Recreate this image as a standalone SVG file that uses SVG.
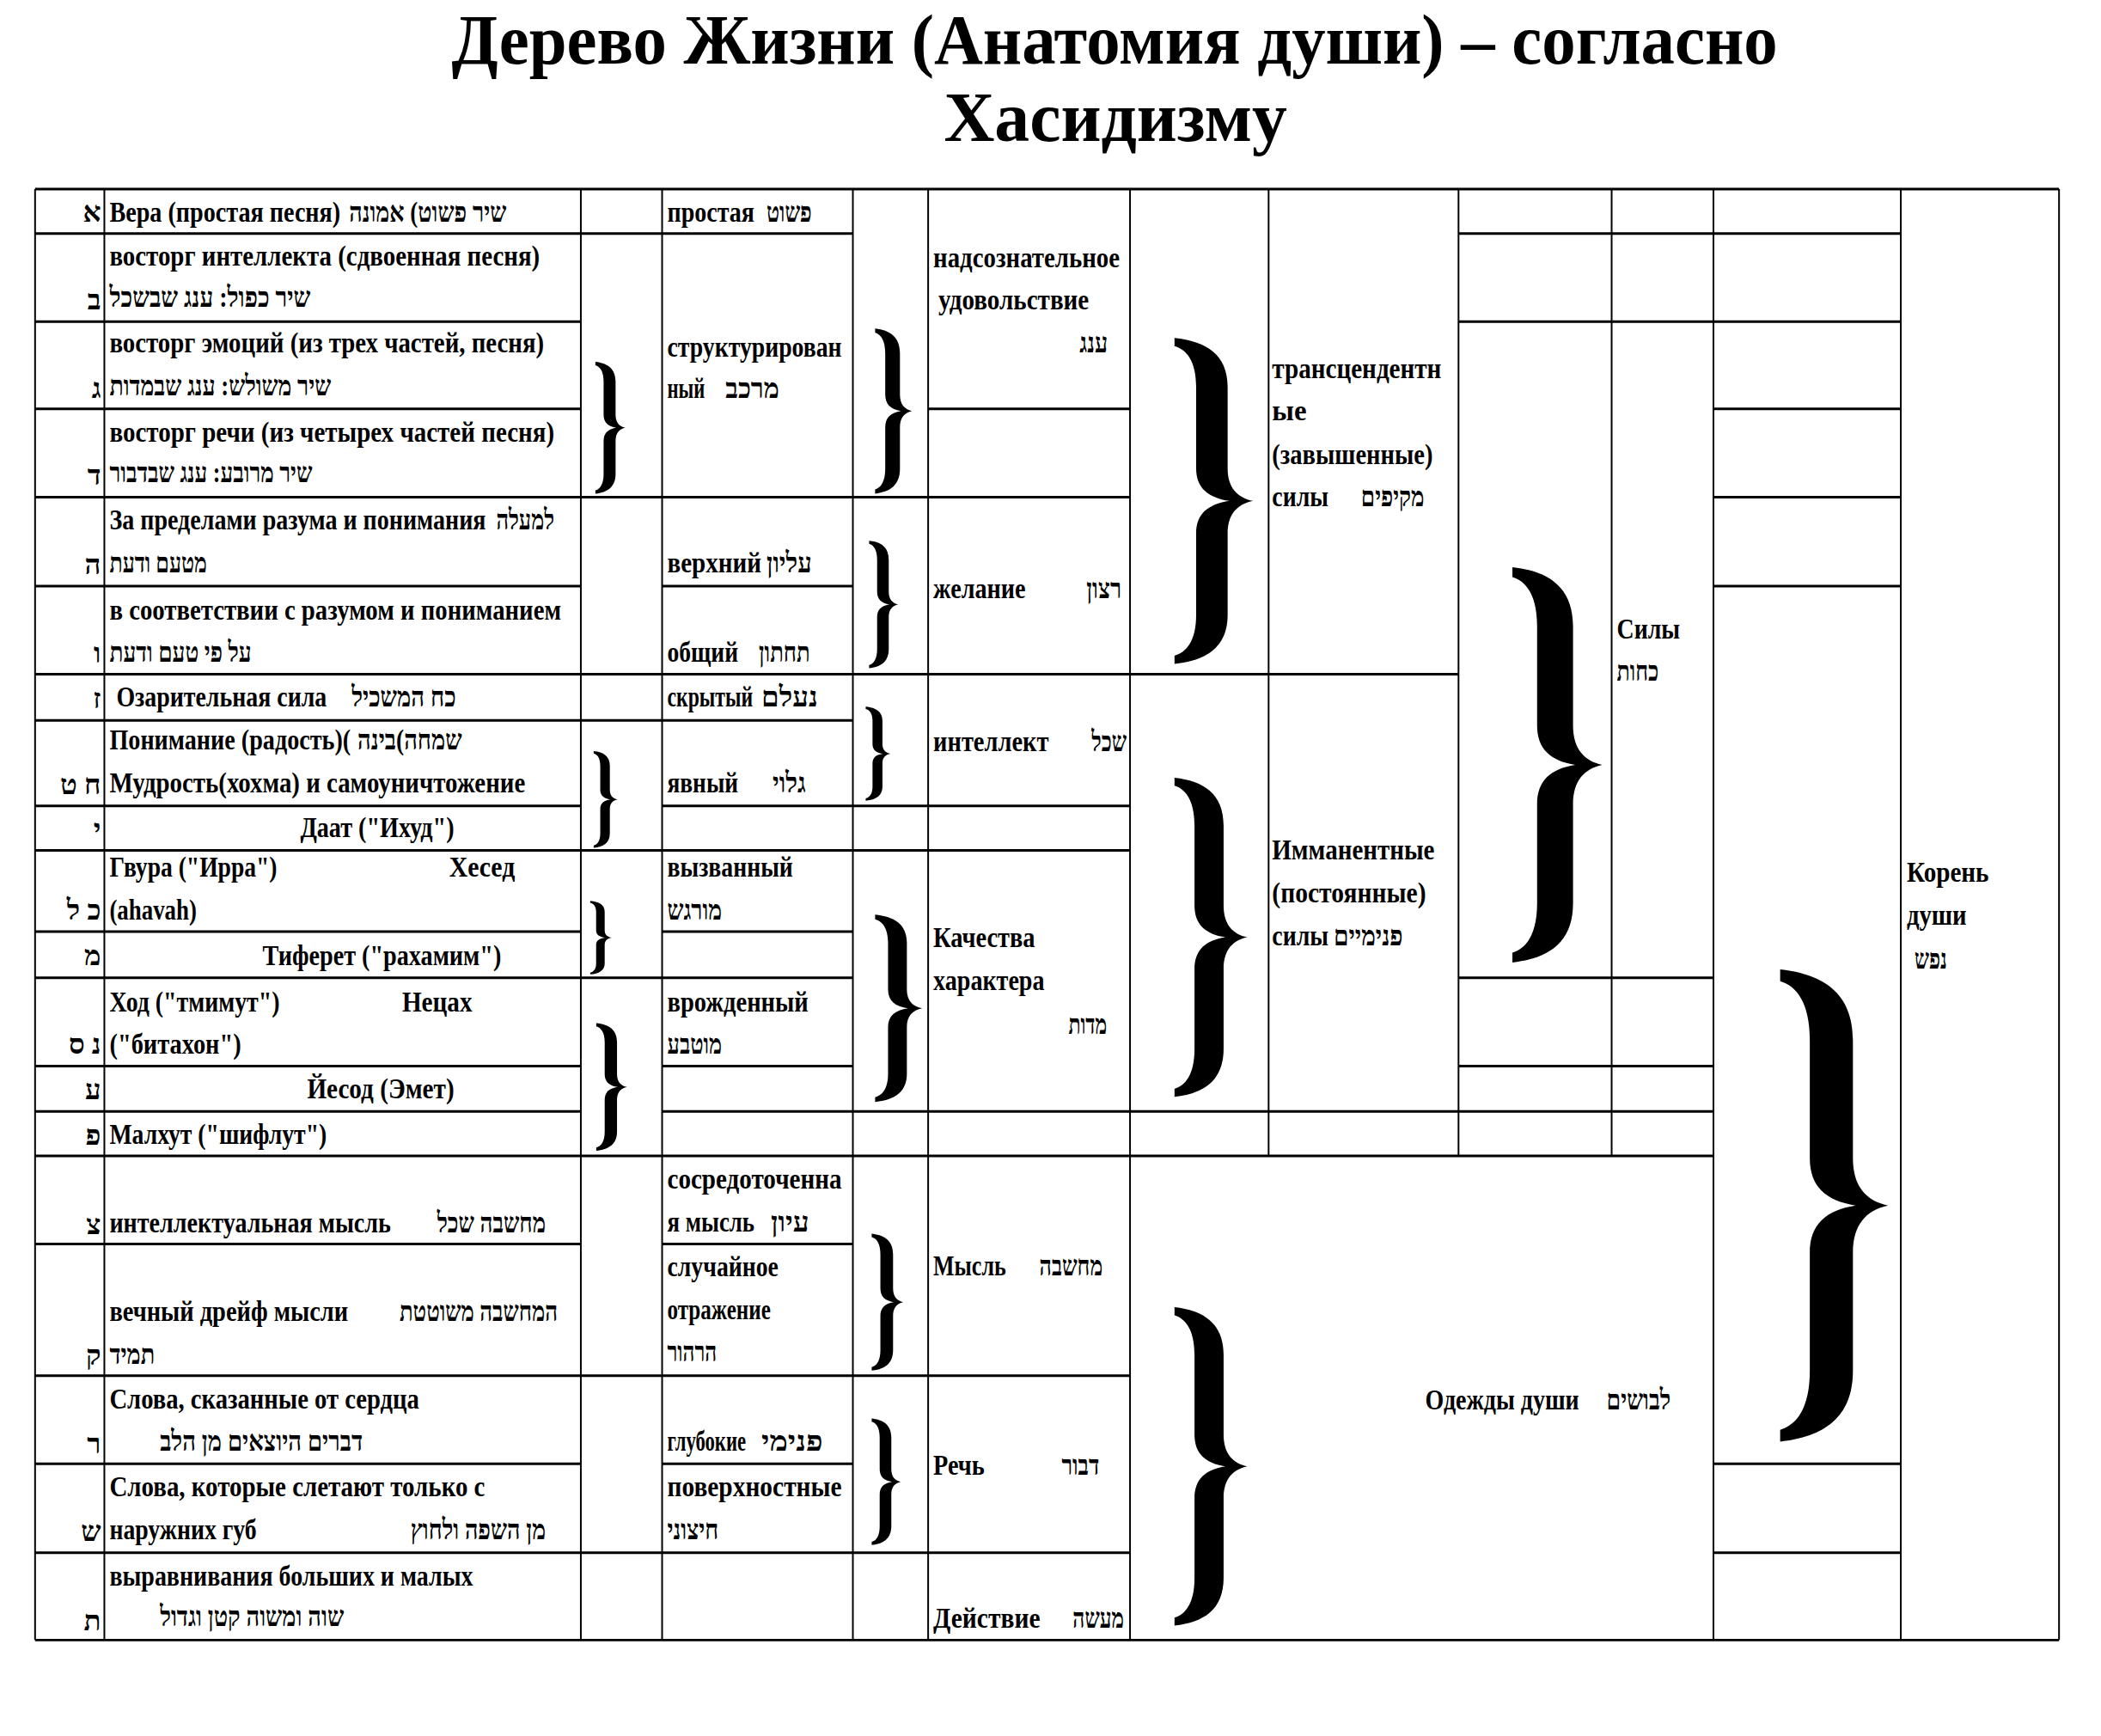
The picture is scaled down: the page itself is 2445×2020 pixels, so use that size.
<svg xmlns="http://www.w3.org/2000/svg" xmlns:xlink="http://www.w3.org/1999/xlink" width="2445" height="2020" viewBox="0 0 2445 2020">
<style>
.t{font-family:"Liberation Serif","DejaVu Serif",serif;font-weight:bold;font-size:33px;fill:#000}
.ti{font-family:"Liberation Serif","DejaVu Serif",serif;font-weight:bold;font-size:82px;fill:#000;text-anchor:middle}
.h{stroke:#000;stroke-width:3;fill:none}
.v{stroke:#000;stroke-width:2;fill:none}
</style>
<defs>
<path id="br" d="M0,0 C16,2 27,10 27,30 L27,80 C27,92 32,98 40,100 C32,102 27,108 27,120 L27,170 C27,190 16,198 0,200 L0,195 C6,193 11,186 11,170 L11,120 C11,108 17,102 28,100 C17,98 11,92 11,80 L11,30 C11,14 6,7 0,5 Z" fill="#000"/>
</defs>
<rect width="2445" height="2020" fill="#fff"/>
<g transform="scale(0.9955)">
<g id="title">
<text class="ti" x="1303" y="74" textLength="1550" lengthAdjust="spacingAndGlyphs">Дерево Жизни (Анатомия души) – согласно</text>
<text class="ti" x="1304" y="165">Хасидизму</text>
</g>
<g id="grid">
<path class="h" d="M41,221H2407 M41,1917H2407
M41,273H997 M1705,273H2222
M41,376H679 M1705,376H2222
M41,478H679 M1085,478H1321 M2003,478H2222
M41,581H1321 M2003,581H2222
M41,685H679 M774,685H997 M2003,685H2222
M41,788H1705
M41,842H997
M41,942H679 M774,942H1321
M41,994H1321
M41,1089H679 M774,1089H997
M41,1143H997 M1705,1143H2003
M41,1246H679 M774,1246H997 M1705,1246H2003
M41,1299H679 M774,1299H2003
M41,1351H2003
M41,1454H679 M774,1454H997
M41,1608H1321
M41,1711H679 M774,1711H997 M2003,1711H2222
M41,1815H1321 M2003,1815H2222"/>
<path class="v" d="M41,221V1917 M122,221V1917 M679,221V1917 M774,221V1917 M997,221V1917 M1085,221V1917 M1321,221V1917 M2003,221V1917 M2222,221V1917 M2407,221V1917 M1483,221V1351 M1705,221V1351 M1884,221V1351"/>
</g>
<g id="connectors">
<use href="#br" transform="translate(696,423) scale(0.875,0.77)"/>
<use href="#br" transform="translate(1023,384) scale(1.075,0.965)"/>
<use href="#br" transform="translate(1016,632) scale(0.85,0.745)"/>
<use href="#br" transform="translate(694,878) scale(0.7,0.565)"/>
<use href="#br" transform="translate(1012,826) scale(0.725,0.55)"/>
<use href="#br" transform="translate(1373,395) scale(2.3,1.905)"/>
<use href="#br" transform="translate(690,1053) scale(0.625,0.43)"/>
<use href="#br" transform="translate(1023,1069) scale(1.375,1.095)"/>
<use href="#br" transform="translate(1373,909) scale(2.125,1.865)"/>
<use href="#br" transform="translate(697,1196) scale(0.9,0.745)"/>
<use href="#br" transform="translate(1768,663) scale(2.625,2.31)"/>
<use href="#br" transform="translate(1019,1442) scale(0.925,0.8)"/>
<use href="#br" transform="translate(1019,1658) scale(0.85,0.74)"/>
<use href="#br" transform="translate(1373,1528) scale(2.125,1.86)"/>
<use href="#br" transform="translate(2081,1133) scale(3.15,2.76)"/>
</g>
<g id="letters" class="t" text-anchor="end">
<text x="118" y="259">א</text>
<text x="118" y="362">ב</text>
<text x="118" y="465">ג</text>
<text x="118" y="567">ד</text>
<text x="118" y="671">ה</text>
<text x="118" y="774">ו</text>
<text x="118" y="828">ז</text>
<text x="118" y="928">ח ט</text>
<text x="118" y="980">י</text>
<text x="118" y="1075">כ ל</text>
<text x="118" y="1128">מ</text>
<text x="118" y="1232">נ ס</text>
<text x="118" y="1285">ע</text>
<text x="118" y="1338">פ</text>
<text x="118" y="1442">צ</text>
<text x="118" y="1595">ק</text>
<text x="118" y="1699">ר</text>
<text x="118" y="1801">ש</text>
<text x="118" y="1906">ת</text>
</g>
<g id="colB" class="t">
<text x="128" y="259" textLength="270" lengthAdjust="spacingAndGlyphs">Вера (простая песня)</text>
<text x="408" y="259" textLength="184" lengthAdjust="spacingAndGlyphs">שיר פשוט) אמונה</text>
<text x="128" y="310" textLength="503" lengthAdjust="spacingAndGlyphs">восторг интеллекта (сдвоенная песня)</text>
<text x="128" y="359" textLength="235" lengthAdjust="spacingAndGlyphs">שיר כפול: ענג שבשכל</text>
<text x="128" y="412" textLength="508" lengthAdjust="spacingAndGlyphs">восторг эмоций (из трех частей, песня)</text>
<text x="128" y="462" textLength="259" lengthAdjust="spacingAndGlyphs">שיר משולש: ענג שבמדות</text>
<text x="128" y="516" textLength="520" lengthAdjust="spacingAndGlyphs">восторг речи (из четырех частей песня)</text>
<text x="128" y="564" textLength="237" lengthAdjust="spacingAndGlyphs">שיר מרובע: ענג שבדבור</text>
<text x="128" y="619" textLength="440" lengthAdjust="spacingAndGlyphs">За пределами разума и понимания</text>
<text x="580" y="619" textLength="68" lengthAdjust="spacingAndGlyphs">למעלה</text>
<text x="128" y="669" textLength="114" lengthAdjust="spacingAndGlyphs">מטעם ודעת</text>
<text x="128" y="724" textLength="528" lengthAdjust="spacingAndGlyphs">в соответствии с разумом и пониманием</text>
<text x="128" y="773" textLength="166" lengthAdjust="spacingAndGlyphs">על פי טעם ודעת</text>
<text x="136" y="826" textLength="246" lengthAdjust="spacingAndGlyphs">Озарительная сила</text>
<text x="411" y="826" textLength="122" lengthAdjust="spacingAndGlyphs">כח המשכיל</text>
<text x="128" y="876" textLength="282" lengthAdjust="spacingAndGlyphs">Понимание (радость)(</text>
<text x="418" y="876" textLength="122" lengthAdjust="spacingAndGlyphs">שמחה)בינה</text>
<text x="128" y="926" textLength="486" lengthAdjust="spacingAndGlyphs">Мудрость(хохма) и самоуничтожение</text>
<text x="351" y="978" textLength="180" lengthAdjust="spacingAndGlyphs">Даат ("Ихуд")</text>
<text x="128" y="1025" textLength="196" lengthAdjust="spacingAndGlyphs">Гвура ("Ирра")</text>
<text x="525" y="1025" textLength="77" lengthAdjust="spacingAndGlyphs">Хесед</text>
<text x="128" y="1075" textLength="102" lengthAdjust="spacingAndGlyphs">(ahavah)</text>
<text x="307" y="1128" textLength="279" lengthAdjust="spacingAndGlyphs">Тиферет ("рахамим")</text>
<text x="128" y="1182" textLength="199" lengthAdjust="spacingAndGlyphs">Ход ("тмимут")</text>
<text x="470" y="1182" textLength="82" lengthAdjust="spacingAndGlyphs">Нецах</text>
<text x="128" y="1232" textLength="154" lengthAdjust="spacingAndGlyphs">("битахон")</text>
<text x="359" y="1284" textLength="172" lengthAdjust="spacingAndGlyphs">Йесод (Эмет)</text>
<text x="128" y="1337" textLength="254" lengthAdjust="spacingAndGlyphs">Малхут ("шифлут")</text>
<text x="128" y="1440" textLength="329" lengthAdjust="spacingAndGlyphs">интеллектуальная мысль</text>
<text x="511" y="1440" textLength="127" lengthAdjust="spacingAndGlyphs">מחשבה שכל</text>
<text x="128" y="1544" textLength="279" lengthAdjust="spacingAndGlyphs">вечный дрейф мысли</text>
<text x="467" y="1544" textLength="185" lengthAdjust="spacingAndGlyphs">המחשבה משוטטת</text>
<text x="128" y="1594" textLength="53" lengthAdjust="spacingAndGlyphs">תמיד</text>
<text x="128" y="1646" textLength="362" lengthAdjust="spacingAndGlyphs">Слова, сказанные от сердца</text>
<text x="187" y="1696" textLength="237" lengthAdjust="spacingAndGlyphs">דברים היוצאים מן הלב</text>
<text x="128" y="1749" textLength="439" lengthAdjust="spacingAndGlyphs">Слова, которые слетают только с</text>
<text x="128" y="1799" textLength="172" lengthAdjust="spacingAndGlyphs">наружних губ</text>
<text x="480" y="1799" textLength="158" lengthAdjust="spacingAndGlyphs">מן השפה ולחוץ</text>
<text x="128" y="1853" textLength="425" lengthAdjust="spacingAndGlyphs">выравнивания больших и малых</text>
<text x="187" y="1901" textLength="215" lengthAdjust="spacingAndGlyphs">שוה ומשוה קטן וגדול</text>
</g>
<g id="colD" class="t">
<text x="780" y="259" textLength="102" lengthAdjust="spacingAndGlyphs">простая</text>
<text x="896" y="259" textLength="53" lengthAdjust="spacingAndGlyphs">פשוט</text>
<text x="780" y="417" textLength="204" lengthAdjust="spacingAndGlyphs">структурирован</text>
<text x="780" y="465" textLength="44" lengthAdjust="spacingAndGlyphs">ный</text>
<text x="848" y="465" textLength="63" lengthAdjust="spacingAndGlyphs">מרכב</text>
<text x="780" y="669" textLength="110" lengthAdjust="spacingAndGlyphs">верхний</text>
<text x="896" y="669" textLength="53" lengthAdjust="spacingAndGlyphs">עליון</text>
<text x="780" y="773" textLength="83" lengthAdjust="spacingAndGlyphs">общий</text>
<text x="887" y="773" textLength="60" lengthAdjust="spacingAndGlyphs">תחתון</text>
<text x="780" y="826" textLength="100" lengthAdjust="spacingAndGlyphs">скрытый</text>
<text x="890" y="826" textLength="66" lengthAdjust="spacingAndGlyphs">נעלם</text>
<text x="780" y="926" textLength="83" lengthAdjust="spacingAndGlyphs">явный</text>
<text x="903" y="926" textLength="39" lengthAdjust="spacingAndGlyphs">גלוי</text>
<text x="780" y="1025" textLength="147" lengthAdjust="spacingAndGlyphs">вызванный</text>
<text x="780" y="1075" textLength="64" lengthAdjust="spacingAndGlyphs">מורגש</text>
<text x="780" y="1182" textLength="165" lengthAdjust="spacingAndGlyphs">врожденный</text>
<text x="780" y="1232" textLength="64" lengthAdjust="spacingAndGlyphs">מוטבע</text>
<text x="780" y="1389" textLength="204" lengthAdjust="spacingAndGlyphs">сосредоточенна</text>
<text x="780" y="1439" textLength="102" lengthAdjust="spacingAndGlyphs">я мысль</text>
<text x="901" y="1439" textLength="45" lengthAdjust="spacingAndGlyphs">עיון</text>
<text x="780" y="1492" textLength="130" lengthAdjust="spacingAndGlyphs">случайное</text>
<text x="780" y="1542" textLength="121" lengthAdjust="spacingAndGlyphs">отражение</text>
<text x="780" y="1591" textLength="58" lengthAdjust="spacingAndGlyphs">הרהור</text>
<text x="780" y="1696" textLength="92" lengthAdjust="spacingAndGlyphs">глубокие</text>
<text x="890" y="1696" textLength="72" lengthAdjust="spacingAndGlyphs">פנימי</text>
<text x="780" y="1749" textLength="204" lengthAdjust="spacingAndGlyphs">поверхностные</text>
<text x="780" y="1799" textLength="60" lengthAdjust="spacingAndGlyphs">חיצוני</text>
</g>
<g id="colF" class="t">
<text x="1091" y="312" textLength="218" lengthAdjust="spacingAndGlyphs">надсознательное</text>
<text x="1097" y="362" textLength="176" lengthAdjust="spacingAndGlyphs">удовольствие</text>
<text x="1262" y="412" textLength="33" lengthAdjust="spacingAndGlyphs">ענג</text>
<text x="1091" y="699" textLength="108" lengthAdjust="spacingAndGlyphs">желание</text>
<text x="1270" y="699" textLength="41" lengthAdjust="spacingAndGlyphs">רצון</text>
<text x="1091" y="878" textLength="135" lengthAdjust="spacingAndGlyphs">интеллект</text>
<text x="1276" y="878" textLength="41" lengthAdjust="spacingAndGlyphs">שכל</text>
<text x="1091" y="1107" textLength="119" lengthAdjust="spacingAndGlyphs">Качества</text>
<text x="1091" y="1157" textLength="130" lengthAdjust="spacingAndGlyphs">характера</text>
<text x="1249" y="1208" textLength="45" lengthAdjust="spacingAndGlyphs">מדות</text>
<text x="1091" y="1491" textLength="85" lengthAdjust="spacingAndGlyphs">Мысль</text>
<text x="1215" y="1491" textLength="74" lengthAdjust="spacingAndGlyphs">מחשבה</text>
<text x="1091" y="1724" textLength="60" lengthAdjust="spacingAndGlyphs">Речь</text>
<text x="1241" y="1724" textLength="44" lengthAdjust="spacingAndGlyphs">דבור</text>
<text x="1091" y="1903" textLength="125" lengthAdjust="spacingAndGlyphs">Действие</text>
<text x="1254" y="1903" textLength="60" lengthAdjust="spacingAndGlyphs">מעשה</text>
</g>
<g id="colH" class="t">
<text x="1487" y="442" textLength="198" lengthAdjust="spacingAndGlyphs">трансцендентн</text>
<text x="1487" y="491">ые</text>
<text x="1487" y="542" textLength="188" lengthAdjust="spacingAndGlyphs">(завышенные)</text>
<text x="1487" y="592" textLength="66" lengthAdjust="spacingAndGlyphs">силы</text>
<text x="1591" y="592" textLength="74" lengthAdjust="spacingAndGlyphs">מקיפים</text>
<text x="1487" y="1005" textLength="190" lengthAdjust="spacingAndGlyphs">Имманентные</text>
<text x="1487" y="1055" textLength="180" lengthAdjust="spacingAndGlyphs">(постоянные)</text>
<text x="1487" y="1105" textLength="66" lengthAdjust="spacingAndGlyphs">силы</text>
<text x="1559" y="1105" textLength="81" lengthAdjust="spacingAndGlyphs">פנימיים</text>
<text x="1890" y="746" textLength="74" lengthAdjust="spacingAndGlyphs">Силы</text>
<text x="1890" y="796" textLength="49" lengthAdjust="spacingAndGlyphs">כחות</text>
<text x="1666" y="1647" textLength="180" lengthAdjust="spacingAndGlyphs">Одежды души</text>
<text x="1878" y="1647" textLength="75" lengthAdjust="spacingAndGlyphs">לבושים</text>
<text x="2229" y="1031" textLength="96" lengthAdjust="spacingAndGlyphs">Корень</text>
<text x="2229" y="1081" textLength="70" lengthAdjust="spacingAndGlyphs">души</text>
<text x="2238" y="1132" textLength="38" lengthAdjust="spacingAndGlyphs">נפש</text>
</g>
</g>
</svg>
